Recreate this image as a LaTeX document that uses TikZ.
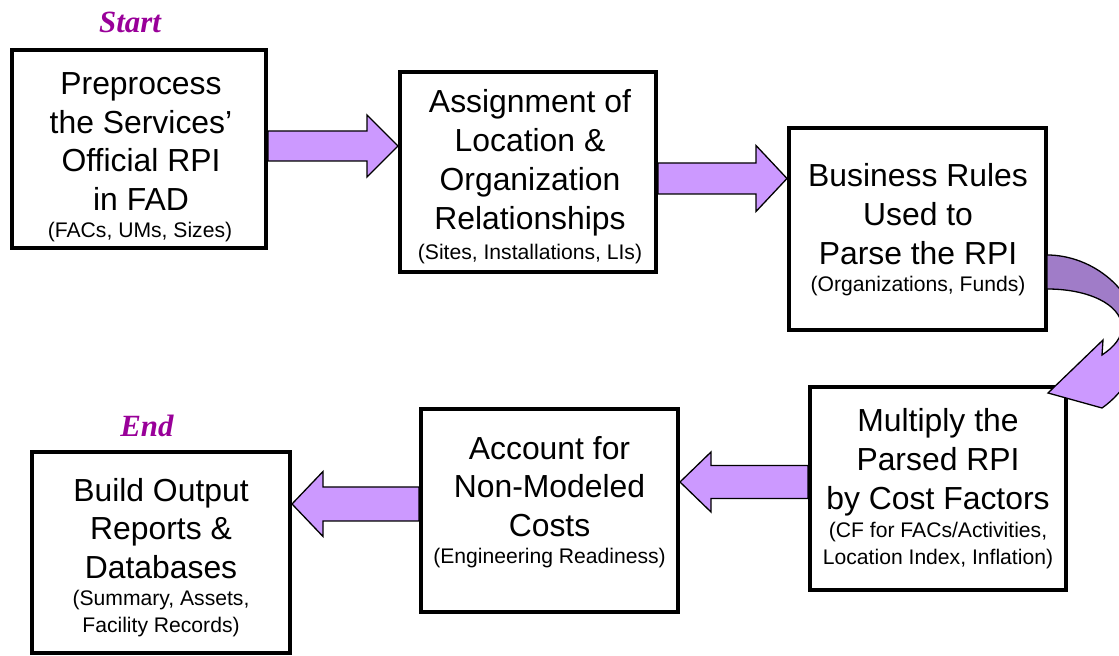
\documentclass[tikz,border=0pt]{standalone}
\usepackage{fontspec}
\setmainfont{Liberation Sans}
\newfontfamily\timesf{Liberation Serif}
\usetikzlibrary{calc}
\pgfdeclarelayer{bg}
\pgfsetlayers{bg,main}
\definecolor{lpurple}{RGB}{204,153,255}
\definecolor{dpurple}{RGB}{160,124,200}
\definecolor{lblpurple}{RGB}{153,0,153}
\tikzset{
  box/.style={draw=black, line width=4bp, fill=white, inner sep=0pt},
  maintext/.style={font=\fontsize{32}{39}\selectfont, align=center, inner sep=0pt},
  subtext/.style={font=\fontsize{21.2}{27.5}\selectfont, align=center, inner sep=0pt},
  lbl/.style={font=\fontsize{31}{36}\selectfont\timesf\bfseries\itshape, text=lblpurple, inner sep=0pt},
  barrow/.style={draw=black, line width=1.3bp, fill=lpurple, line join=miter},
}
% #1 start, #2 tip, #3 shaft half width, #4 head half width, #5 signed offset tip->head base
\newcommand\blockarrow[5]{%
  \draw[barrow] ($(#1)+(0,#3)$) -- ($(#2)+(#5,#3)$) -- ($(#2)+(#5,#4)$) -- (#2)
    -- ($(#2)+(#5,-#4)$) -- ($(#2)+(#5,-#3)$) -- ($(#1)+(0,-#3)$) -- cycle;}
\def\curvedpath{(1047,401) .. controls (1092,401) and (1138,366) .. (1140,316)
  .. controls (1140,291) and (1125,264) .. (1102,248) -- (1048,263) -- (1103,316) -- (1102,301)
  .. controls (1114,309) and (1122,318) .. (1122,330)
  .. controls (1120,352) and (1088,367) .. (1047,367) -- cycle}
\begin{document}
\begin{tikzpicture}[x=1bp,y=1bp]
\useasboundingbox (0,0) rectangle (1119,656);
% boxes
\node[box, minimum width=254bp, minimum height=198bp] (b1) at (139,507) {};
\node[box, minimum width=256bp, minimum height=200bp] (b2) at (528,484) {};
\node[box, minimum width=257bp, minimum height=202bp] (b3) at (917.5,427) {};
\node[box, minimum width=256bp, minimum height=203bp] (b4) at (938,167.5) {};
\node[box, minimum width=257bp, minimum height=203bp] (b5) at (549.5,145.5) {};
\node[box, minimum width=258bp, minimum height=201bp] (b6) at (161,103.5) {};
% texts
\node[maintext] (t1) at (141,514.5) {Preprocess\\the Services’\\Official RPI\\in FAD};
\node[subtext] (s1) at (140,424) {(FACs, UMs, Sizes)};
\node[maintext] (t2) at (530,493) {Assignment of\\Location \&\\Organization\\Relationships};
\node[subtext] (s2) at (530,402) {(Sites, Installations, LIs)};
\node[maintext] (t3) at (918,442) {Business Rules\\Used to\\Parse the RPI};
\node[subtext] (s3) at (918,370) {(Organizations, Funds)};
\node[maintext] (t4) at (938,193.5) {Multiply the\\Parsed RPI\\by Cost Factors};
\node[subtext] (s4) at (938,110.5) {(CF for FACs/Activities,\\Location Index, Inflation)};
\node[maintext] (t5) at (549.5,169.5) {Account for\\Non-Modeled\\Costs};
\node[subtext] (s5) at (549.5,98) {(Engineering Readiness)};
\node[maintext] (t6) at (161,127.5) {Build Output\\Reports \&\\Databases};
\node[subtext] (s6) at (161,42.5) {(Summary, Assets,\\Facility Records)};
% labels
\node[lbl] (start) at (130,634) {Start};
\node[lbl] (end) at (147,230) {End};
% straight block arrows
\coordinate (a1s) at (b1.east |- 0,510);
\coordinate (a1e) at (b2.west |- 0,510);
\coordinate (a2s) at (b2.east |- 0,477.5);
\coordinate (a2e) at (b3.west |- 0,477.5);
\coordinate (a3s) at (b4.west |- 0,174);
\coordinate (a3e) at (b5.east |- 0,174);
\coordinate (a4s) at (b5.west |- 0,152);
\coordinate (a4e) at (b6.east |- 0,152);
\begin{pgfonlayer}{bg}
\blockarrow{a1s}{a1e}{15}{31}{-31}
\blockarrow{a2s}{a2e}{15.5}{33}{-31}
\blockarrow{a3s}{a3e}{16.5}{30}{31}
\blockarrow{a4s}{a4e}{17}{32.5}{31}
\end{pgfonlayer}
% curved arrow from b3 to b4
\begin{scope}
\clip (0,0) rectangle (1119,656);
\fill[lpurple] \curvedpath;
\begin{scope}
\clip \curvedpath;
\fill[dpurple] (1000,331) rectangle (1200,420);
\shade[top color=dpurple, bottom color=lpurple] (1000,309) rectangle (1200,331);
\end{scope}
\draw[line width=1.3bp, line join=miter] \curvedpath;
\end{scope}
\end{tikzpicture}
\end{document}
